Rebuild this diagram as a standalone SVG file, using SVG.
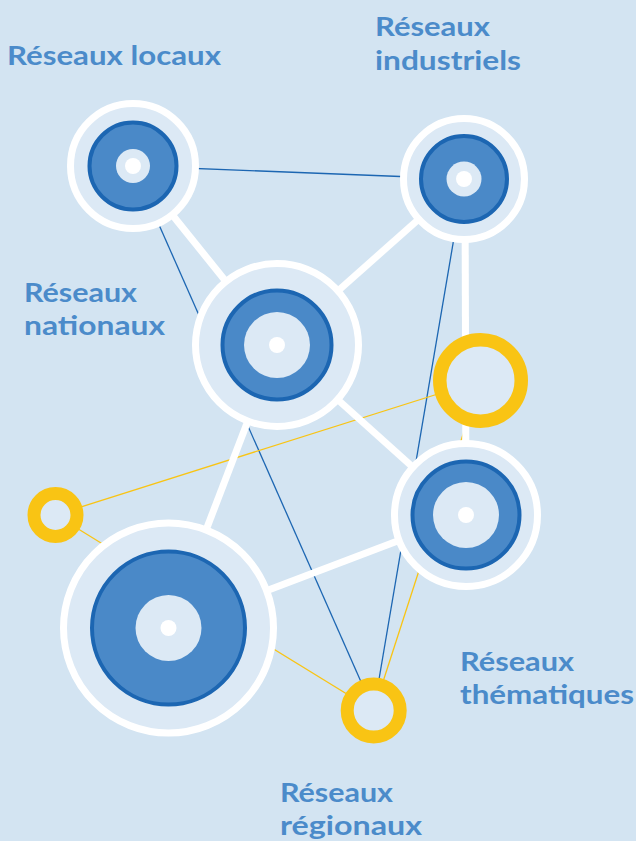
<svg xmlns="http://www.w3.org/2000/svg" width="636" height="841" viewBox="0 0 636 841">
<style>
.bg{fill:#d3e4f2}
.thin-b{stroke:#1c66b2;stroke-width:1.3;fill:none}
.thin-y{stroke:#f9c414;stroke-width:1.3;fill:none}
.thick{stroke:#ffffff;stroke-width:7;fill:none}
.outer{fill:#dce9f5;stroke:#ffffff;stroke-width:7}
.disk{fill:#4a89c8;stroke:#1c66b2;stroke-width:4}
.hole{fill:#dce9f5}
.dot{fill:#ffffff}
.ring{fill:#dce9f5;stroke:#f9c414}
.lbl{font-family:Lato,"Open Sans","Liberation Sans",sans-serif;font-weight:bold;font-size:27px;fill:#4b8bca}
</style>
<rect class="bg" x="0" y="0" width="636" height="841"/>
<g id="connectors">
<line class="thin-b" x1="133" y1="166" x2="464" y2="179"/>
<line class="thin-b" x1="133" y1="166" x2="373.7" y2="710.5"/>
<line class="thin-b" x1="464" y1="179" x2="373.7" y2="710.5"/>
<line class="thin-y" x1="55.5" y1="515" x2="480.5" y2="380.5"/>
<line class="thin-y" x1="55.5" y1="515" x2="373.7" y2="710.5"/>
<line class="thin-y" x1="480.5" y1="380.5" x2="373.7" y2="710.5"/>
<line class="thick" x1="133" y1="166" x2="277" y2="345"/>
<line class="thick" x1="464" y1="179" x2="277" y2="345"/>
<line class="thick" x1="465" y1="179" x2="466" y2="515"/>
<line class="thick" x1="277" y1="345" x2="466" y2="515"/>
<line class="thick" x1="277" y1="345" x2="168.5" y2="628"/>
<line class="thick" x1="168.5" y1="628" x2="466" y2="515"/>
</g>
<g id="node-locaux">
<circle class="outer" cx="133" cy="166" r="62.5"/>
<circle class="disk" cx="133" cy="166" r="43.5"/>
<circle class="hole" cx="133" cy="166" r="17"/>
<circle class="dot" cx="133" cy="166" r="8"/>
<text class="lbl" x="7" y="65" textLength="214" lengthAdjust="spacingAndGlyphs">Réseaux locaux</text>
</g>
<g id="node-industriels">
<circle class="outer" cx="464" cy="179" r="60.5"/>
<circle class="disk" cx="464" cy="179" r="43"/>
<circle class="hole" cx="464" cy="179" r="17.5"/>
<circle class="dot" cx="464" cy="179" r="8"/>
<text class="lbl" x="375" y="36" textLength="115" lengthAdjust="spacingAndGlyphs">Réseaux</text>
<text class="lbl" x="375" y="70" textLength="146" lengthAdjust="spacingAndGlyphs">industriels</text>
</g>
<g id="node-nationaux">
<circle class="outer" cx="277" cy="345" r="81.5"/>
<circle class="disk" cx="277" cy="345" r="54.5"/>
<circle class="hole" cx="277" cy="345" r="33"/>
<circle class="dot" cx="277" cy="345" r="8"/>
<text class="lbl" x="24" y="302" textLength="113" lengthAdjust="spacingAndGlyphs">Réseaux</text>
<text class="lbl" x="24" y="335" textLength="141" lengthAdjust="spacingAndGlyphs">nationaux</text>
</g>
<g id="node-thematiques">
<circle class="outer" cx="466" cy="515" r="71.5"/>
<circle class="disk" cx="466" cy="515" r="53.5"/>
<circle class="hole" cx="466" cy="515" r="33"/>
<circle class="dot" cx="466" cy="515" r="8"/>
<text class="lbl" x="460" y="671" textLength="114" lengthAdjust="spacingAndGlyphs">Réseaux</text>
<text class="lbl" x="460" y="704" textLength="174" lengthAdjust="spacingAndGlyphs">thématiques</text>
</g>
<g id="node-grand">
<circle class="outer" cx="168.5" cy="628" r="105"/>
<circle class="disk" cx="168.5" cy="628" r="76.5"/>
<circle class="hole" cx="168.5" cy="628" r="33"/>
<circle class="dot" cx="168.5" cy="628" r="8"/>
</g>
<g id="node-jaune-haut">
<circle class="ring" cx="480.5" cy="380.5" r="40.75" stroke-width="13.5"/>
</g>
<g id="node-jaune-gauche">
<circle class="ring" cx="55.5" cy="515" r="21.5" stroke-width="13"/>
</g>
<g id="node-regionaux">
<circle class="ring" cx="373.7" cy="710.5" r="26.5" stroke-width="13"/>
<text class="lbl" x="280" y="802" textLength="113" lengthAdjust="spacingAndGlyphs">Réseaux</text>
<text class="lbl" x="280" y="835" textLength="142" lengthAdjust="spacingAndGlyphs">régionaux</text>
</g>
</svg>
